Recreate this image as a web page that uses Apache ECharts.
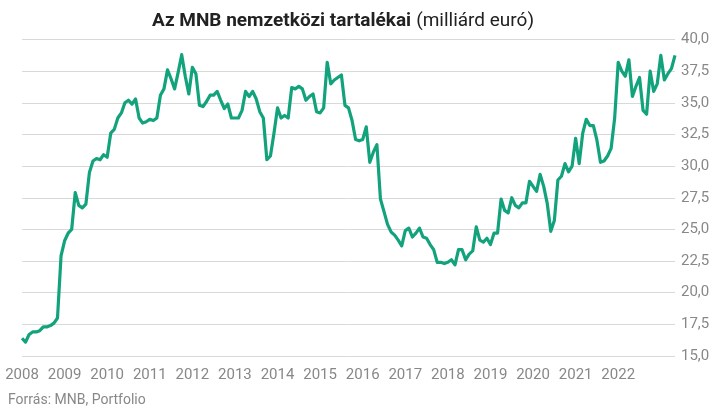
<!DOCTYPE html>
<html>
<head>
<meta charset="utf-8">
<script src="https://cdn.jsdelivr.net/npm/echarts@6/dist/echarts.min.js"></script>
<style>
html,body{margin:0;padding:0;background:#fff;}
#chart{width:718px;height:415px;}
</style>
</head>
<body>
<div id="chart"></div>
<script>
// Monthly data, January 2008 onward (billion EUR)
const startYear = 2008;
const yearLabels = ['2008','2009','2010','2011','2012','2013','2014','2015','2016','2017','2018','2019','2020','2021','2022'];
const reserves = [
  16.4,16.1,16.7,16.9,16.9,17.0,17.3,17.3,17.4,17.6,18.0,22.9,
  24.1,24.7,25.0,27.9,26.9,26.7,27.0,29.5,30.4,30.6,30.5,30.9,
  30.7,32.6,32.9,33.8,34.2,35.0,35.2,34.9,35.3,33.8,33.4,33.5,
  33.7,33.6,33.8,35.6,36.1,37.6,36.9,36.1,37.4,38.8,37.1,35.7,
  37.8,37.3,34.8,34.7,35.1,35.6,35.6,35.9,35.2,34.55,34.9,33.8,
  33.8,33.8,34.4,35.9,35.5,35.9,35.3,34.3,33.8,30.5,30.8,32.6,
  34.6,33.8,34.0,33.8,36.2,36.1,36.3,36.1,35.2,35.5,35.7,34.3,
  34.2,34.6,38.2,36.5,36.8,37.0,37.2,34.8,34.6,33.6,32.1,32.0,
  32.1,33.1,30.3,31.1,31.7,27.4,26.4,25.4,24.8,24.55,24.15,23.7,
  24.9,25.1,24.4,24.7,25.1,24.4,24.3,23.8,23.4,22.4,22.4,22.3,
  22.4,22.6,22.2,23.4,23.4,22.6,23.05,23.3,25.2,24.15,24.0,24.3,
  23.8,24.7,24.7,27.4,26.5,26.3,27.5,26.9,26.7,27.1,27.1,28.8,
  28.4,28.0,29.35,28.4,27.05,24.85,25.7,28.9,29.2,30.2,29.55,30.0,
  32.2,30.2,32.6,33.7,33.2,33.2,32.05,30.3,30.4,30.8,31.4,33.8,
  38.2,37.5,37.1,38.4,35.5,36.3,37.0,34.4,34.1,37.5,35.9,36.5,
  38.75,36.8,37.3,37.7,38.75
];
const months = reserves.map((_, i) => {
  const y = startYear + Math.floor(i / 12);
  const m = (i % 12) + 1;
  return y + '-' + (m < 10 ? '0' + m : m);
});

const chart = echarts.init(document.getElementById('chart'), null, {renderer: 'canvas'});
const labelFont = "'Liberation Sans Narrow', 'Roboto', sans-serif";
chart.setOption({
  animation: false,
  backgroundColor: '#ffffff',
  title: {
    text: '{b|Az MNB nemzetközi tartalékai} {n|(milliárd euró)}',
    left: 147,
    top: 7,
    textStyle: {
      rich: {
        b: {fontFamily: "'Roboto', sans-serif", fontWeight: 'bold', fontSize: 19, color: '#222222'},
        n: {fontFamily: "'Roboto', sans-serif", fontWeight: 'normal', fontSize: 19, color: '#222222'}
      }
    }
  },
  graphic: [{
    type: 'text',
    left: 8,
    top: 393,
    style: {text: 'Forrás: MNB, Portfolio', fill: '#888888', font: "14px 'Liberation Sans Narrow', 'Roboto', sans-serif"}
  }],
  grid: {left: 22, right: 43, top: 39.5, bottom: 59, containLabel: false},
  xAxis: {
    type: 'category',
    data: months,
    boundaryGap: false,
    axisLine: {show: false},
    axisTick: {show: false},
    splitLine: {show: false},
    axisLabel: {
      interval: (idx) => idx % 12 === 0 && yearLabels.indexOf(months[idx].slice(0, 4)) >= 0,
      formatter: (v) => v.slice(0, 4),
      color: '#888888',
      fontSize: 15,
      fontFamily: labelFont,
      margin: 12
    }
  },
  yAxis: {
    type: 'value',
    position: 'right',
    min: 15,
    max: 40,
    interval: 2.5,
    axisLine: {show: false},
    axisTick: {show: false},
    splitLine: {lineStyle: {color: '#d9d9d9', width: 1}},
    axisLabel: {
      formatter: (v) => v.toFixed(1).replace('.', ','),
      color: '#888888',
      fontSize: 15,
      fontFamily: labelFont,
      margin: 6,
      align: 'left'
    }
  },
  series: [{
    type: 'line',
    data: reserves,
    showSymbol: false,
    symbol: 'none',
    lineStyle: {color: '#12a27c', width: 3.2, join: 'round'},
    itemStyle: {color: '#12a27c'}
  }]
});
</script>
</body>
</html>
